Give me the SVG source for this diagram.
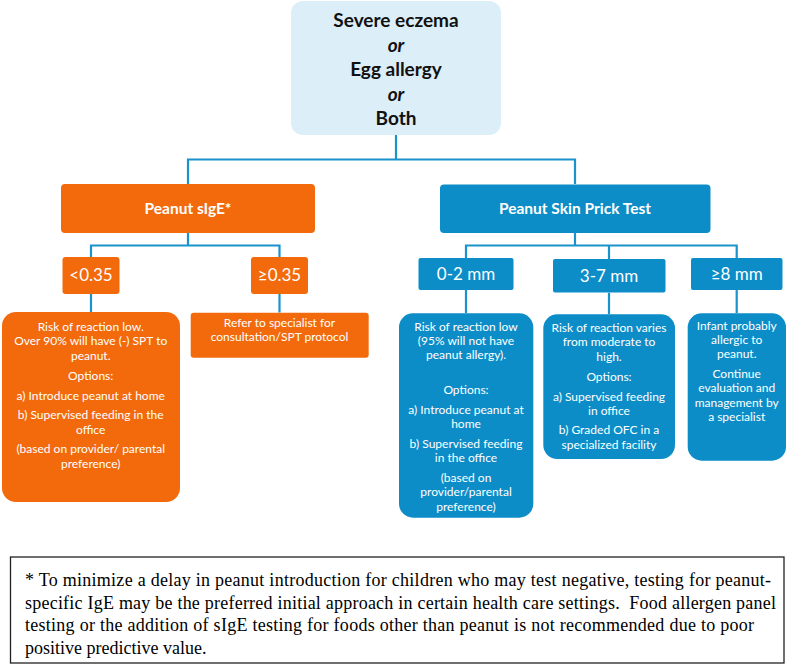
<svg xmlns="http://www.w3.org/2000/svg" width="794" height="666" viewBox="0 0 794 666">
<style>
.bg{fill:#ffffff}
.top{fill:#DCEEF8}
.or{fill:#F26A0C}
.bl{fill:#0C8DC8}
.conn{stroke:#1A93CC;stroke-width:2.2;fill:none}
.t{font-family:Lato,"Open Sans","Liberation Sans",sans-serif;text-anchor:middle;fill:#ffffff}
.hd{font-size:19px;font-weight:bold;fill:#111111}
.hi{font-style:italic}
.b1{font-size:15.5px;font-weight:bold}
.b2{font-size:17px}
.sm{font-size:12px}
.fn{font-family:"Liberation Serif","Times New Roman",serif;font-size:18px;fill:#000000}
.fbox{fill:none;stroke:#222222;stroke-width:1.3}
</style>
<rect class="bg" x="0" y="0" width="794" height="666"/>
<g id="connectors">
<path class="conn" d="M396 135V159.5M188 184V159.5H575V184"/>
<path class="conn" d="M188 233V245.5M91 257V245.5H279.5V257"/>
<path class="conn" d="M575 233V245.5M466 258V245.5H736.7V258M609 245.5V259"/>
<path class="conn" d="M91 294V312M279.5 294V312.5"/>
<path class="conn" d="M466 290V313M609 292.7V314M736.7 290V313"/>
</g>
<g id="root">
<rect class="top" x="291" y="1" width="210" height="134" rx="12"/>
<text class="t hd" x="396" y="27">Severe eczema</text>
<text class="t hd hi" x="396" y="52">or</text>
<text class="t hd" x="396" y="76">Egg allergy</text>
<text class="t hd hi" x="396" y="101">or</text>
<text class="t hd" x="396" y="125">Both</text>
</g>
<g id="sige">
<rect class="or" x="61" y="184" width="254" height="49" rx="4"/>
<text class="t b1" x="188" y="213.5">Peanut sIgE*</text>
</g>
<g id="spt">
<rect class="bl" x="440" y="184.5" width="270.5" height="48.5" rx="4"/>
<text class="t b1" x="575" y="213.5">Peanut Skin Prick Test</text>
</g>
<g id="lt035">
<rect class="or" x="62.5" y="257" width="57" height="37" rx="3"/>
<text class="t b2" x="91" y="281">&lt;0.35</text>
</g>
<g id="ge035">
<rect class="or" x="251" y="257" width="57" height="37" rx="3"/>
<text class="t b2" x="279.5" y="281">≥0.35</text>
</g>
<g id="mm02">
<rect class="bl" x="418.5" y="258" width="95" height="32" rx="2"/>
<text class="t b2" x="466" y="280">0-2 mm</text>
</g>
<g id="mm37">
<rect class="bl" x="553" y="259" width="112.5" height="33.5" rx="2"/>
<text class="t b2" x="609" y="282">3-7 mm</text>
</g>
<g id="mm8">
<rect class="bl" x="691" y="258" width="91.5" height="32" rx="2"/>
<text class="t b2" x="736.7" y="280">≥8 mm</text>
</g>
<g id="low-sige">
<rect class="or" x="2" y="312" width="178" height="190" rx="14"/>
<text class="t sm" x="90.7" y="331">Risk of reaction low.</text>
<text class="t sm" x="90.7" y="345.3">Over 90% will have (-) SPT to</text>
<text class="t sm" x="90.7" y="359.7">peanut.</text>
<text class="t sm" x="90.7" y="379.7">Options:</text>
<text class="t sm" x="90.7" y="399.7">a) Introduce peanut at home</text>
<text class="t sm" x="90.7" y="419.3">b) Supervised feeding in the</text>
<text class="t sm" x="90.7" y="433.7">office</text>
<text class="t sm" x="90.7" y="453.3">(based on provider/ parental</text>
<text class="t sm" x="90.7" y="468">preference)</text>
</g>
<g id="refer">
<rect class="or" x="190.7" y="312.7" width="178" height="45" rx="3"/>
<text class="t sm" x="279.5" y="327.3">Refer to specialist for</text>
<text class="t sm" x="279.5" y="341.3">consultation/SPT protocol</text>
</g>
<g id="low-spt">
<rect class="bl" x="399" y="313.3" width="134.3" height="204.4" rx="14"/>
<text class="t sm" x="466" y="330.7">Risk of reaction low</text>
<text class="t sm" x="466" y="345">(95% will not have</text>
<text class="t sm" x="466" y="359.3">peanut allergy).</text>
<text class="t sm" x="466" y="394">Options:</text>
<text class="t sm" x="466" y="413.7">a) Introduce peanut at</text>
<text class="t sm" x="466" y="427.7">home</text>
<text class="t sm" x="466" y="447.7">b) Supervised feeding</text>
<text class="t sm" x="466" y="461.7">in the office</text>
<text class="t sm" x="466" y="481.7">(based on</text>
<text class="t sm" x="466" y="496.3">provider/parental</text>
<text class="t sm" x="466" y="510.7">preference)</text>
</g>
<g id="mod-spt">
<rect class="bl" x="543.3" y="314.3" width="131.7" height="144.7" rx="14"/>
<text class="t sm" x="609" y="332">Risk of reaction varies</text>
<text class="t sm" x="609" y="346.3">from moderate to</text>
<text class="t sm" x="609" y="360.7">high.</text>
<text class="t sm" x="609" y="380.7">Options:</text>
<text class="t sm" x="609" y="400.7">a) Supervised feeding</text>
<text class="t sm" x="609" y="414.7">in office</text>
<text class="t sm" x="609" y="434.3">b) Graded OFC in a</text>
<text class="t sm" x="609" y="449">specialized facility</text>
</g>
<g id="high-spt">
<rect class="bl" x="687.7" y="313.3" width="98.3" height="147.4" rx="14"/>
<text class="t sm" x="736.7" y="330">Infant probably</text>
<text class="t sm" x="736.7" y="344.3">allergic to</text>
<text class="t sm" x="736.7" y="358.3">peanut.</text>
<text class="t sm" x="736.7" y="378">Continue</text>
<text class="t sm" x="736.7" y="392.3">evaluation and</text>
<text class="t sm" x="736.7" y="406.7">management by</text>
<text class="t sm" x="736.7" y="421.3">a specialist</text>
</g>
<g id="footnote">
<rect class="fbox" x="10.5" y="557" width="773.5" height="106"/>
<text class="fn" x="25" y="586" textLength="746" lengthAdjust="spacing">* To minimize a delay in peanut introduction for children who may test negative, testing for peanut-</text>
<text class="fn" x="25" y="608.5" textLength="751" lengthAdjust="spacing" xml:space="preserve">specific IgE may be the preferred initial approach in certain health care settings.  Food allergen panel</text>
<text class="fn" x="25" y="631" textLength="729" lengthAdjust="spacing">testing or the addition of sIgE testing for foods other than peanut is not recommended due to poor</text>
<text class="fn" x="25" y="653.5">positive predictive value.</text>
</g>
</svg>
